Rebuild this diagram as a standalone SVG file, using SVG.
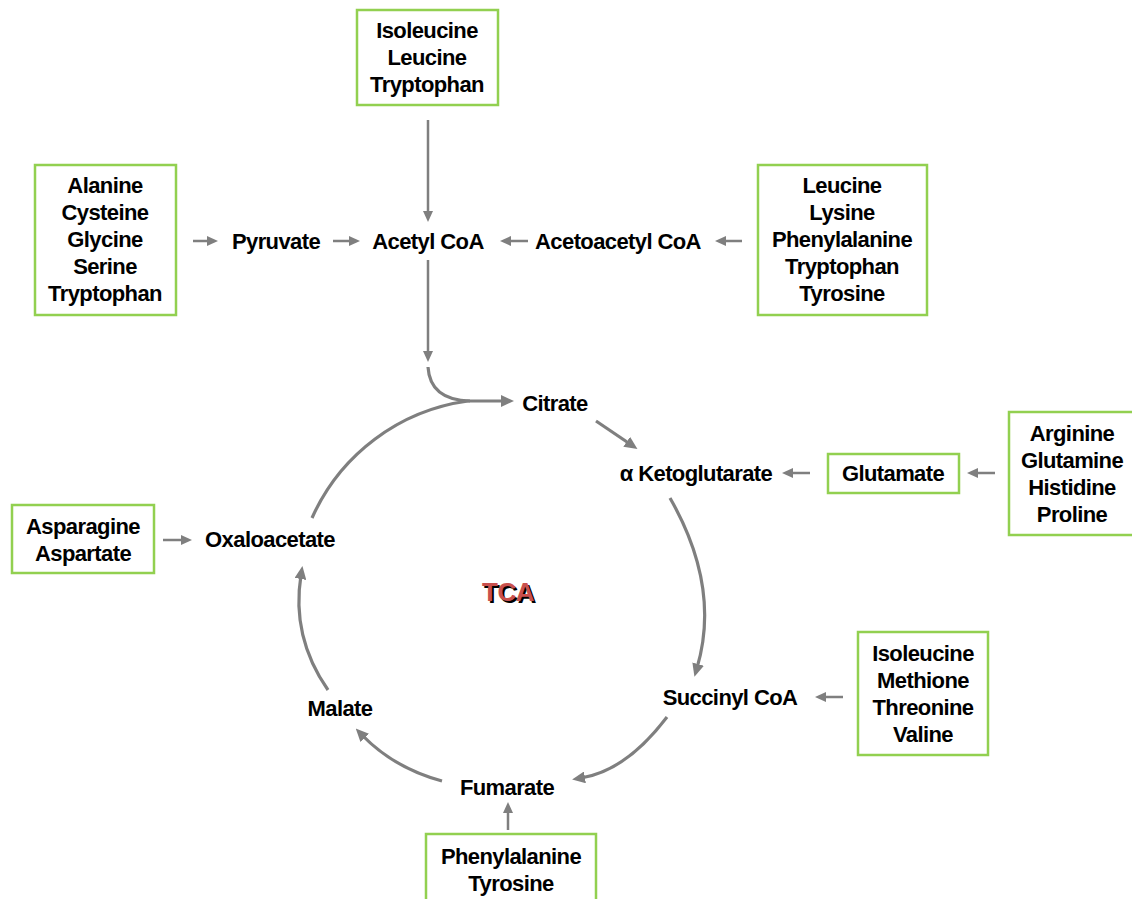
<svg xmlns="http://www.w3.org/2000/svg" width="1132" height="899" viewBox="0 0 1132 899">
<style>
  text { font-family: "Liberation Sans", Arial, sans-serif; font-weight: bold; font-size: 22px; letter-spacing: -0.6px; fill: #000; text-anchor: middle; }
  .box { fill: #fff; stroke: #92d050; stroke-width: 2.5; }
  .s { fill: none; stroke: #7f7f7f; stroke-width: 2.5; }
  .c { fill: none; stroke: #7f7f7f; stroke-width: 3.2; }
  .tca { font-size: 26px; letter-spacing: -0.5px; }
</style>
<defs>
  <marker id="ah" viewBox="0 0 11 10" refX="3" refY="5" markerWidth="11" markerHeight="10" markerUnits="userSpaceOnUse" orient="auto">
    <path d="M0,0 L11,5 L0,10 z" fill="#7f7f7f"/>
  </marker>
  <marker id="bh" viewBox="0 0 13 12" refX="4" refY="6" markerWidth="13" markerHeight="12" markerUnits="userSpaceOnUse" orient="auto">
    <path d="M0,0 L13,6 L0,12 z" fill="#7f7f7f"/>
  </marker>
</defs>
<rect width="1132" height="899" fill="#fff"/>

<g id="connectors">
  <path class="s" d="M193 241 H210" marker-end="url(#ah)"/>
  <path class="s" d="M333 241 H352" marker-end="url(#ah)"/>
  <path class="s" d="M528 241 H508" marker-end="url(#ah)"/>
  <path class="s" d="M742 241 H723" marker-end="url(#ah)"/>
  <path class="s" d="M428 120 V214" marker-end="url(#ah)"/>
  <path class="s" d="M428 260 V354" marker-end="url(#ah)"/>
  <path class="s" d="M810 473 H790" marker-end="url(#ah)"/>
  <path class="s" d="M995 473 H975" marker-end="url(#ah)"/>
  <path class="s" d="M163 540 H184" marker-end="url(#ah)"/>
  <path class="s" d="M843 697 H823" marker-end="url(#ah)"/>
  <path class="s" d="M508 830 V810" marker-end="url(#ah)"/>
  <path class="c" d="M428 367 Q430 400 470 401"/>
  <path class="c" d="M312 518 A200 200 0 0 1 468 401 L505 401" marker-end="url(#bh)"/>
  <path class="c" d="M596 421 L630 444" marker-end="url(#bh)"/>
  <path class="c" d="M670 498 Q721 587 697 668" marker-end="url(#bh)"/>
  <path class="c" d="M667 717 Q626 771 581 778" marker-end="url(#bh)"/>
  <path class="c" d="M442 781 Q394 768 362 735" marker-end="url(#bh)"/>
  <path class="c" d="M328 690 Q291 637 301 575" marker-end="url(#bh)"/>
</g>

<g id="n-top">
  <rect class="box" x="357" y="10" width="141" height="95"/>
  <text x="427" y="38">Isoleucine</text>
  <text x="427" y="65">Leucine</text>
  <text x="427" y="92">Tryptophan</text>
</g>
<g id="n-left">
  <rect class="box" x="35" y="165" width="141" height="150"/>
  <text x="105" y="193">Alanine</text>
  <text x="105" y="220">Cysteine</text>
  <text x="105" y="247">Glycine</text>
  <text x="105" y="274">Serine</text>
  <text x="105" y="301">Tryptophan</text>
</g>
<g id="n-righttop">
  <rect class="box" x="758" y="165" width="169" height="150"/>
  <text x="842" y="193">Leucine</text>
  <text x="842" y="220">Lysine</text>
  <text x="842" y="247">Phenylalanine</text>
  <text x="842" y="274">Tryptophan</text>
  <text x="842" y="301">Tyrosine</text>
</g>
<g id="n-glutamate">
  <rect class="box" x="828" y="454" width="131" height="39"/>
  <text x="893" y="481">Glutamate</text>
</g>
<g id="n-arginine">
  <rect class="box" x="1009" y="412" width="130" height="123"/>
  <text x="1072" y="441">Arginine</text>
  <text x="1072" y="468">Glutamine</text>
  <text x="1072" y="495">Histidine</text>
  <text x="1072" y="522">Proline</text>
</g>
<g id="n-asparagine">
  <rect class="box" x="12" y="505" width="142" height="68"/>
  <text x="83" y="534">Asparagine</text>
  <text x="83" y="561">Aspartate</text>
</g>
<g id="n-isoleucine2">
  <rect class="box" x="858" y="632" width="130" height="123"/>
  <text x="923" y="661">Isoleucine</text>
  <text x="923" y="688">Methione</text>
  <text x="923" y="715">Threonine</text>
  <text x="923" y="742">Valine</text>
</g>
<g id="n-bottom">
  <rect class="box" x="426" y="834" width="170" height="75"/>
  <text x="511" y="864">Phenylalanine</text>
  <text x="511" y="891">Tyrosine</text>
</g>

<g id="n-pyruvate"><text x="276" y="249">Pyruvate</text></g>
<g id="n-acetylcoa"><text x="428" y="249">Acetyl CoA</text></g>
<g id="n-acetoacetylcoa"><text x="618" y="249">Acetoacetyl CoA</text></g>
<g id="n-citrate"><text x="555" y="411">Citrate</text></g>
<g id="n-aketoglutarate"><text x="696" y="481">α Ketoglutarate</text></g>
<g id="n-oxaloacetate"><text x="270" y="547">Oxaloacetate</text></g>
<g id="n-succinylcoa"><text x="730" y="705">Succinyl CoA</text></g>
<g id="n-malate"><text x="340" y="716">Malate</text></g>
<g id="n-fumarate"><text x="507" y="795">Fumarate</text></g>
<g id="n-tca">
  <text class="tca" x="510" y="603" style="fill:#000">TCA</text>
  <text class="tca" x="508" y="601" style="fill:#c9504d">TCA</text>
</g>
</svg>
